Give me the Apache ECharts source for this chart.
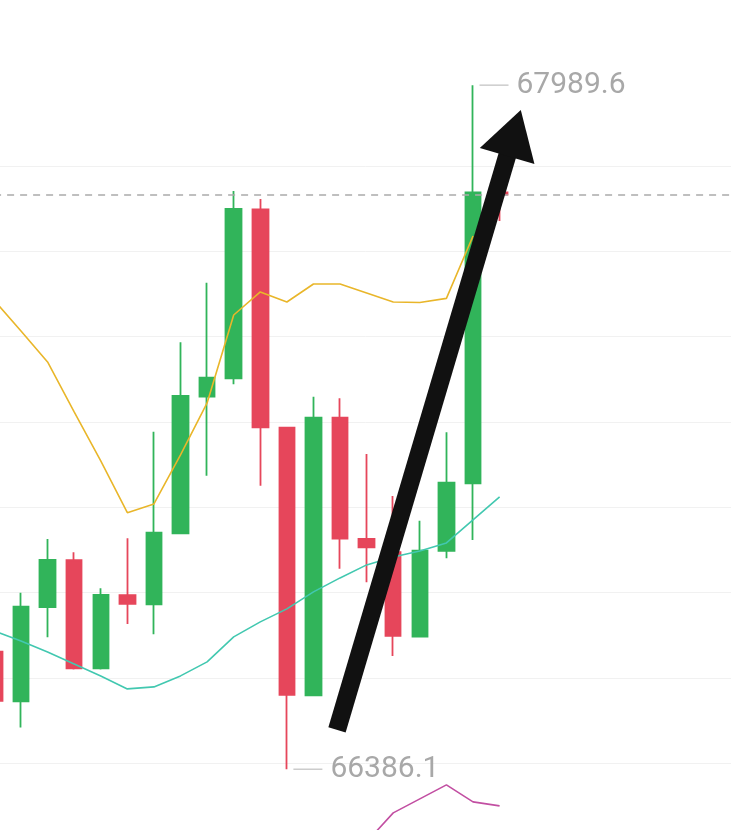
<!DOCTYPE html>
<html>
<head>
<meta charset="utf-8">
<script src="https://cdn.jsdelivr.net/npm/echarts@6/dist/echarts.min.js"></script>
<style>
  html, body { margin: 0; padding: 0; background: #fff; }
  #chart { width: 731px; height: 830px; }
</style>
</head>
<body>
<div id="chart"></div>
<script>
// candles, oldest first (last one is still open)
const categories = ['1','2','3','4','5','6','7','8','9','10','11','12','13','14','15','16','17','18','19','20','21','22','23','24','25','26','27','28','29']
const opens  = [66661.7, 66545.4, 66765.8, 66875.9, 66622.8, 66793.9, 66772.8, 66939.2, 67259.4, 67302.5, 67698.6, 67186.7, 66559.5, 67210.1, 66925.9, 66895.0, 66696.9, 66897.7, 67056.4, 67738.4]
const closes = [66546.1, 66767.2, 66876.6, 66622.8, 66794.6, 66773.5, 66940.6, 67261.0, 67303.9, 67699.3, 67187.6, 66560.2, 67210.1, 66926.5, 66906.4, 66698.5, 66898.4, 67057.8, 67738.4, 67733.0]
const lows   = [66530.0, 66483.6, 66695.5, 66620.0, 66620.0, 66726.6, 66702.5, 66938.0, 67074.2, 67288.4, 67050.8, 66386.1, 66558.0, 66856.2, 66824.3, 66651.6, 66696.0, 66880.6, 66923.5, 67671.1]
const highs  = [66680.0, 66800.0, 66925.9, 66894.7, 66810.3, 66927.5, 67177.3, 67386.9, 67526.5, 67741.5, 67722.7, 67187.5, 67259.4, 67255.6, 67125.1, 67026.6, 66968.7, 67175.9, 67989.6, 67738.4]

// moving averages
const maYellow = [67484.8, 67413.3, 67340.7, 67223.5, 67108.6, 66987.5, 67007.9, 67122.7, 67244.6, 67450.8, 67504.8, 67481.3, 67523.5, 67523.5, 67502.4, 67481.3, 67480.1, 67489.7, 67636.0, '-']
const maTeal   = [66710.2, 66686.8, 66661.0, 66632.9, 66604.8, 66574.3, 66579.0, 66604.8, 66637.6, 66696.2, 66731.4, 66761.9, 66801.7, 66834.5, 66865.0, 66883.7, 66897.7, 66916.5, 66970.4, 67024.3]
const maPink   = ['-', '-', '-', '-', '-', '-', '-', '-', '-', '-', '-', '-', '-', '-', 66215.7, 66283.7, 66316.5, 66349.3, 66309.5, 66300.1]

// marked extremes: [candle index, price]
const highMark = [18, 67989.6]
const lowMark = [11, 66386.1]

// hand drawn arrow, [x position in candle units, price]
const arrowFrom = [12.885, 66478.2]
const arrowTo = [19.54, 67877.4]

const yMin = 66200
const yMax = 68000
const yStep = 200

const candles = opens.map((o, i) => [o, closes[i], lows[i], highs[i]])
const lastClose = closes[closes.length - 1]

const chart = echarts.init(document.getElementById('chart'))

const extremeLabel = {
  show: true,
  position: 'right',
  distance: 8,
  formatter: '{c}',
  color: '#a8a8a8',
  fontSize: 30,
  fontFamily: 'Roboto'
}

chart.setOption({
  animation: false,
  backgroundColor: '#fff',
  grid: {
    left: -18.9, right: -21.2, top: 80.7, bottom: -18.6,
    containLabel: false,
    outerBoundsMode: 'none'
  },
  xAxis: [
    {
      type: 'category',
      data: categories,
      boundaryGap: true,
      show: false
    },
    {
      type: 'value',
      min: -0.5,
      max: categories.length - 0.5,
      show: false
    }
  ],
  yAxis: {
    type: 'value',
    min: yMin,
    max: yMax,
    interval: yStep,
    axisLine: { show: false },
    axisTick: { show: false },
    axisLabel: { show: false },
    splitLine: {
      show: true,
      showMaxLine: false,
      lineStyle: { color: '#f1f1f1', width: 1 }
    }
  },
  series: [
    {
      type: 'candlestick',
      data: candles,
      barWidth: 16,
      itemStyle: {
        color: '#31b45a',
        color0: '#e6465b',
        borderColor: '#31b45a',
        borderColor0: '#e6465b',
        borderWidth: 1.8
      },
      markLine: {
        silent: true,
        symbol: ['none', 'none'],
        label: { show: false },
        lineStyle: { color: '#ababab', type: [7, 6], width: 1.6 },
        data: [{ yAxis: lastClose }]
      },
      markPoint: {
        silent: true,
        symbol: 'rect',
        symbolSize: [29, 1.3],
        itemStyle: { color: '#c4c4c4' },
        label: extremeLabel,
        data: [
          { coord: highMark, value: highMark[1], symbolOffset: [21, 0] },
          { coord: lowMark, value: lowMark[1], symbolOffset: [21, 0] }
        ]
      }
    },
    {
      type: 'line',
      data: maYellow,
      symbol: 'none',
      lineStyle: { color: '#e9b62a', width: 1.6 }
    },
    {
      type: 'line',
      data: maTeal,
      symbol: 'none',
      lineStyle: { color: '#42c8b0', width: 1.6 }
    },
    {
      type: 'line',
      data: maPink,
      symbol: 'none',
      lineStyle: { color: '#c24fa2', width: 1.6 }
    },
    {
      // arrow drawn over the chart
      type: 'line',
      xAxisIndex: 1,
      data: [arrowFrom, arrowTo],
      symbol: 'none',
      lineStyle: { opacity: 0 },
      z: 10,
      markLine: {
        silent: true,
        symbol: ['none', 'triangle'],
        symbolSize: [57, 48],
        label: { show: false },
        lineStyle: { color: '#111', width: 18, type: 'solid' },
        data: [[{ coord: arrowFrom }, { coord: arrowTo }]]
      }
    }
  ]
})
</script>
</body>
</html>
